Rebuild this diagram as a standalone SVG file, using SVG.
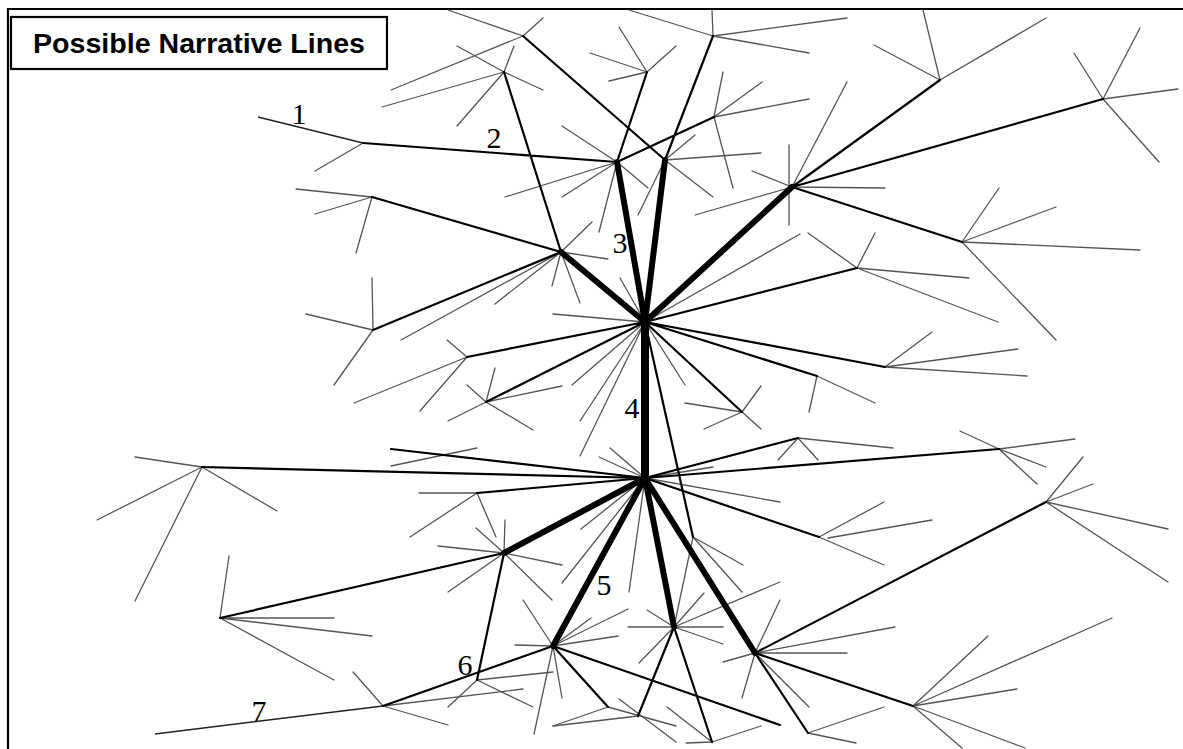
<svg xmlns="http://www.w3.org/2000/svg" width="1183" height="749" viewBox="0 0 1183 749">
<style>
.t{stroke:#555;stroke-width:1.3;fill:none;stroke-linecap:round}
.d{stroke:#222;stroke-width:1.5;fill:none}
.m{stroke:#000;stroke-width:2.2;fill:none;stroke-linecap:round}
.k{stroke:#000;stroke-width:6;fill:none;stroke-linecap:round}
.lbl{font-family:"Liberation Serif","Times New Roman",serif;font-size:30px;fill:#000;text-anchor:middle}
</style>
<rect x="0" y="0" width="1183" height="749" fill="#fff"/>
<path d="M8 749 V9 H1183" stroke="#000" stroke-width="2.2" fill="none"/>
<g id="title">
<rect x="11" y="17" width="376" height="52" fill="#fff" stroke="#000" stroke-width="2.2"/>
<text x="33" y="53" font-family="Liberation Sans, Arial, sans-serif" font-weight="bold" font-size="27" textLength="332" lengthAdjust="spacingAndGlyphs">Possible Narrative Lines</text>
</g>
<g id="branches">
<g id="n1"><path class="d" d="M363 143L258 117"/><path class="t" d="M363 143L315 171"/></g>
<g id="na"><path class="t" d="M647 72L619 27M647 72L676 46M647 72L590 53M647 72L609 81"/></g>
<g id="nb"><path class="t" d="M714 117L723 72M714 117L762 82M714 117L733 188M714 117L809 99"/></g>
<g id="nA"><path class="t" d="M617 162L562 126M617 162L505 197M617 162L562 197M617 162L648 188M617 162L599 232"/></g>
<g id="nc"><path class="t" d="M523 36L448 10M523 36L543 18M523 36L391 90"/></g>
<g id="nd"><path class="t" d="M504 72L457 46M504 72L543 90M504 72L514 46M504 72L457 126M504 72L382 107"/></g>
<g id="ne"><path class="t" d="M713 36L712 10M713 36L629 10M713 36L847 18M713 36L809 53"/></g>
<g id="nB"><path class="t" d="M665 160L695 135M665 160L761 153M665 160L713 197M665 160L638 215"/></g>
<g id="nC"><path class="t" d="M789 145L789 225M792 187L885 188M792 187L847 82M792 187L752 171M792 187L695 215"/></g>
<g id="nf"><path class="t" d="M940 80L923 10M940 80L874 45M940 80L1046 18"/></g>
<g id="ng"><path class="t" d="M1103 99L1074 53M1103 99L1140 28M1103 99L1178 89M1103 99L1159 162"/></g>
<g id="nh"><path class="t" d="M962 242L999 188M962 242L1056 207M962 242L1140 250M962 242L1056 340"/></g>
<g id="ni"><path class="t" d="M857 268L808 233M857 268L875 233M857 268L969 278M857 268L998 322"/></g>
<g id="nj"><path class="t" d="M885 367L932 332M885 367L1018 349M885 367L1027 376"/></g>
<g id="nk"><path class="t" d="M817 376L875 403M817 376L809 412"/></g>
<g id="nl"><path class="t" d="M742 412L685 403M742 412L761 386M742 412L704 429M742 412L761 429"/></g>
<g id="nH1"><path class="t" d="M645 322L800 234M645 322L685 385M645 322L553 314M645 322L620 278M645 322L572 385M645 322L580 421M645 322L580 456"/></g>
<g id="nD"><path class="t" d="M561 252L401 340M561 252L495 304M561 252L552 286M561 252L580 303M561 252L608 259M561 252L592 222"/></g>
<g id="nm"><path class="t" d="M372 197L296 189M372 197L315 214M372 197L356 253"/></g>
<g id="nn"><path class="t" d="M373 330L372 278M373 330L306 314M373 330L334 385"/></g>
<g id="no"><path class="t" d="M467 357L447 340M467 357L354 403M467 357L420 411"/></g>
<g id="np"><path class="t" d="M486 402L495 368M486 402L467 385M486 402L562 386M486 402L448 421M486 402L533 430"/></g>
<g id="nJ"><path class="t" d="M693 537L743 565M693 537L742 592M693 537L674 627"/></g>
<g id="nH2"><path class="t" d="M645 478L713 467M645 478L780 502M645 478L610 448M645 478L599 457M645 478L581 529M645 478L562 583M645 478L629 592"/></g>
<g id="nq"><path class="t" d="M798 438L893 448M798 438L778 460M798 438L818 460"/></g>
<g id="nr"><path class="t" d="M999 449L1075 439M999 449L960 431M999 449L1046 467M999 449L1037 484"/></g>
<g id="ns"><path class="t" d="M1046 502L1083 457M1046 502L1093 484M1046 502L1168 529M1046 502L1168 582"/></g>
<g id="nt"><path class="t" d="M819 537L884 565M819 537L884 502M828 538L932 520"/></g>
<g id="nu"><path class="t" d="M202 467L135 457M202 467L97 520M202 467L135 601M202 467L277 511"/></g>
<g id="nv"><path class="t" d="M477 493L419 493M477 493L410 537M477 493L496 537"/></g>
<g id="nw"><path class="t" d="M391 466L477 448"/></g>
<g id="nE"><path class="t" d="M504 553L505 520M504 553L476 528M504 553L438 546M504 553L562 565M504 553L552 600M504 553L448 592"/></g>
<g id="nx"><path class="t" d="M220 618L229 556M220 618L334 618M220 618L372 636M220 618L334 680"/></g>
<g id="ny"><path class="t" d="M477 680L553 672M477 680L448 707M477 680L533 707"/></g>
<g id="nF"><path class="t" d="M553 646L523 600M553 646L628 609M553 646L591 618M553 646L618 636M553 646L515 645M553 646L562 698M553 646L534 734"/></g>
<g id="nz"><path class="d" d="M383 706L155 734"/><path class="t" d="M383 706L353 672M383 706L448 725M383 706L523 689"/></g>
<g id="nG"><path class="t" d="M674 627L647 610M674 627L628 627M674 627L723 627M674 627L704 593M674 627L723 644M674 627L639 663M674 627L780 582"/></g>
<g id="naa"><path class="t" d="M608 707L553 726M608 707L676 726"/></g>
<g id="nbb"><path class="t" d="M638 716L553 726M619 699L676 742"/></g>
<g id="ncc"><path class="t" d="M712 742L686 743M712 742L761 726M712 742L667 707"/></g>
<g id="nI"><path class="t" d="M755 653L723 662M755 653L742 698M755 653L780 600M755 653L895 627M755 653L847 653M755 653L809 707"/></g>
<g id="ndd"><path class="t" d="M913 706L1112 618M913 706L988 636M913 706L1017 689M913 706L1025 748M913 706L962 748"/></g>
<g id="nee"><path class="t" d="M808 733L884 707M808 733L856 743"/></g>
</g>
<g id="connectors">
<path class="m" d="M363 143L617 162M617 162L647 72M617 162L714 117M523 36L665 160M504 72L561 252M665 160L713 36M792 187L940 80M792 187L1103 99M792 187L962 242"/>
<path class="m" d="M645 322L857 268M645 322L885 367M645 322L817 376M645 322L742 412M645 322L693 537M645 322L467 357M645 322L486 402M561 252L373 330M561 252L372 197"/>
<path class="m" d="M645 478L202 467M645 478L391 449M645 478L477 493M645 478L798 438M645 478L999 449M645 478L819 537"/>
<path class="m" d="M504 553L220 618M504 553L477 680M553 646L383 706M553 646L608 707M553 646L780 725M674 627L638 716M674 627L712 742M755 653L1046 502M755 653L913 706M755 653L808 733"/>
<path class="k" d="M645 322L617 162M645 322L665 160M645 322L792 187M645 322L561 252"/>
<path class="k" style="stroke-width:8" d="M645 322L645 478"/>
<path class="k" d="M645 478L504 553M645 478L553 646M645 478L674 627M645 478L755 653"/>
</g>
<g id="labels">
<text class="lbl" x="299" y="124">1</text>
<text class="lbl" x="494" y="148">2</text>
<text class="lbl" x="620" y="253">3</text>
<text class="lbl" x="632" y="418">4</text>
<text class="lbl" x="604" y="595">5</text>
<text class="lbl" x="465" y="675">6</text>
<text class="lbl" x="259" y="721">7</text>
</g>
</svg>
